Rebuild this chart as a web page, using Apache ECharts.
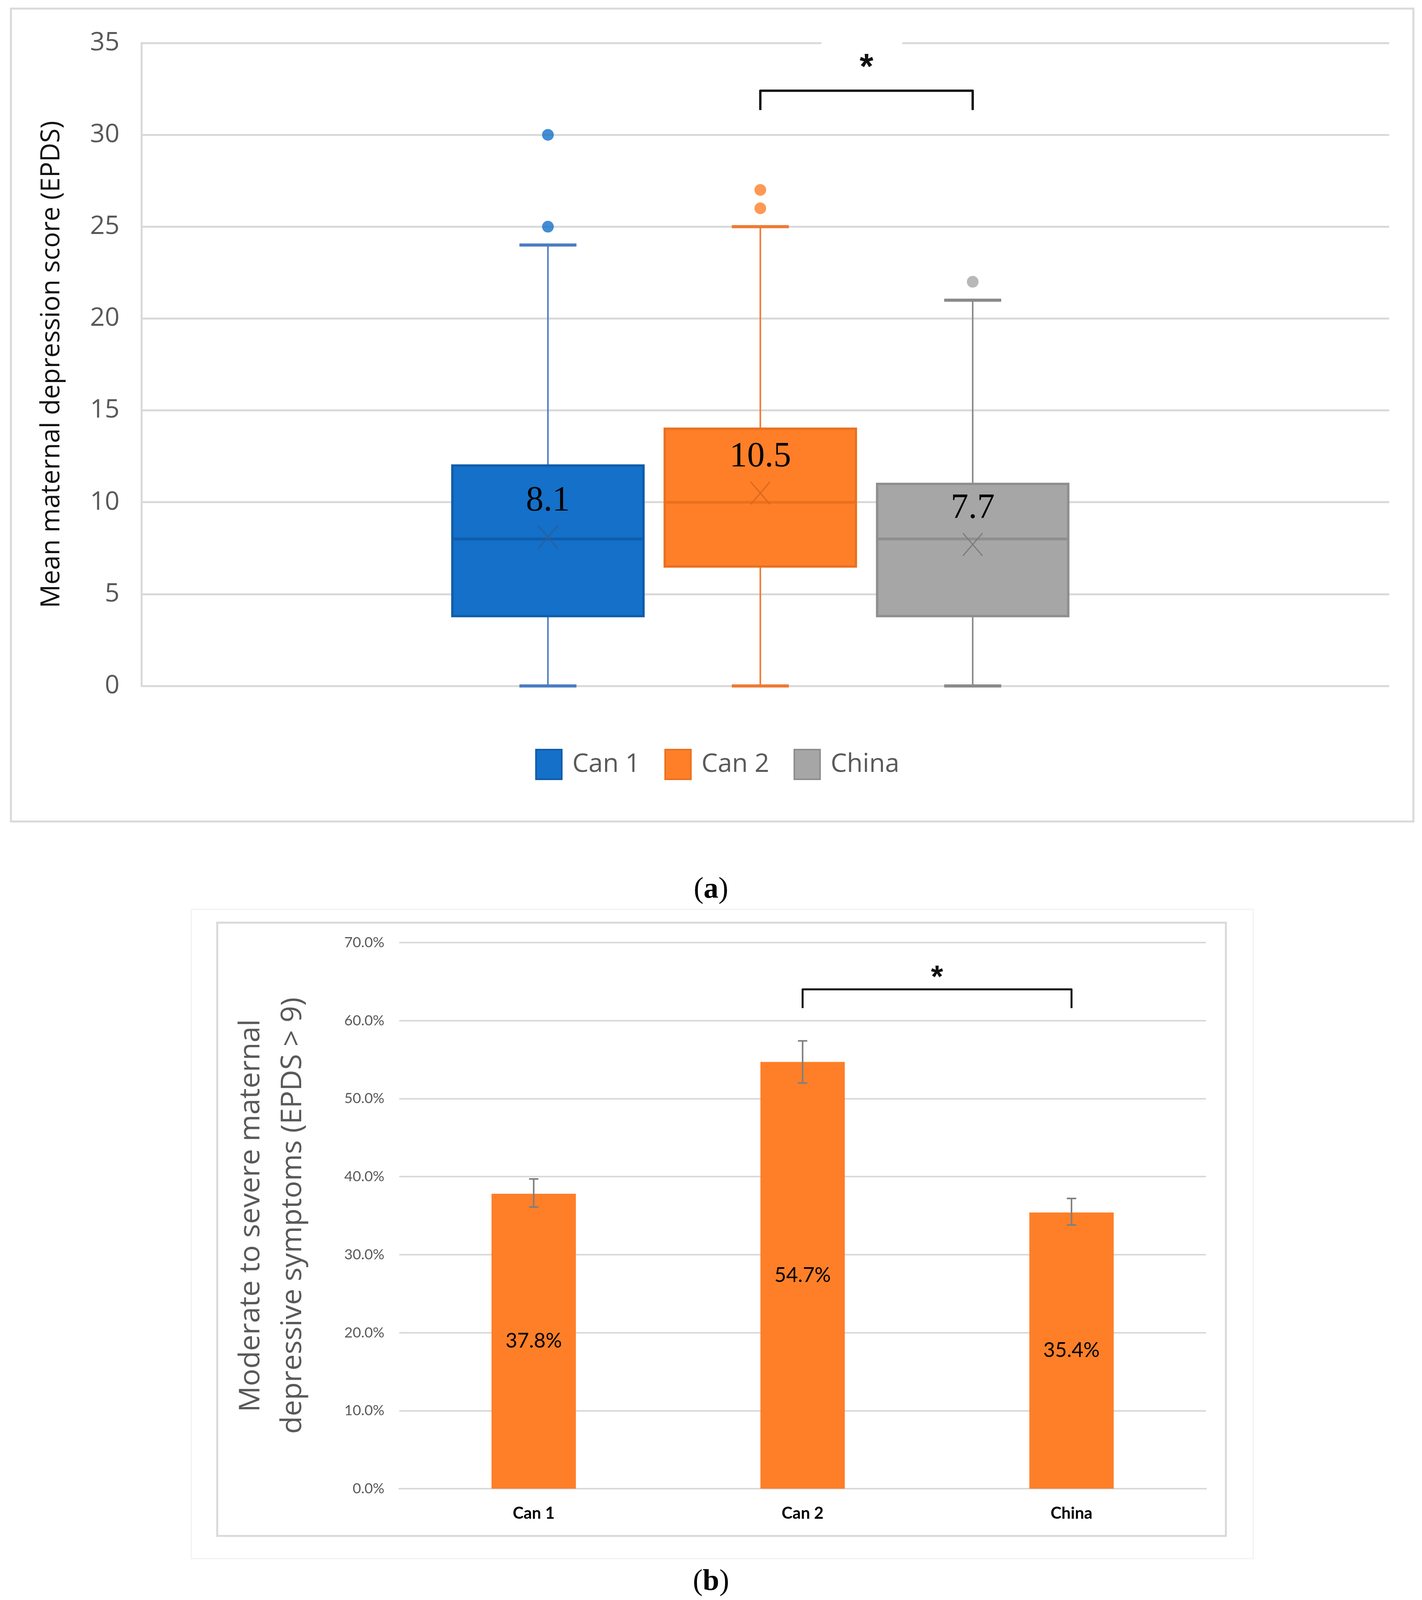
<!DOCTYPE html>
<html>
<head>
<meta charset="utf-8">
<title>Maternal depression scores</title>
<script src="https://cdn.jsdelivr.net/npm/echarts@6.0.0/dist/echarts.min.js"></script>
<style>
  html, body { margin: 0; padding: 0; background: #fff; }
  #main { width: 3640px; height: 4118px; }
</style>
</head>
<body>
<div id="main"></div>
<script>
// (a) box plot: EPDS score per group
const boxGroups = ['Can 1', 'Can 2', 'China'];
// min, Q1, median, Q3, max (whisker ends)
const boxStats = [
  [0, 3.8, 8, 12, 24],
  [0, 6.5, 10, 14, 25],
  [0, 3.8, 8, 11, 21]
];
const boxMeans = [8.1, 10.5, 7.7];
const boxOutliers = [[25, 30], [26, 27], [22]];
const scoreTicks = [0, 5, 10, 15, 20, 25, 30, 35];

// (b) bar chart: share with EPDS > 9
const barCats = ['Can 1', 'Can 2', 'China'];
const barValues = [37.8, 54.7, 35.4];
const errLow = [36.1, 52.0, 33.8];
const errHigh = [39.7, 57.4, 37.2];
const pctTicks = [0, 10, 20, 30, 40, 50, 60, 70];

const fill = ['#1470C8', '#FE7F28', '#A6A6A6'];
const edge = ['#0F5CAA', '#E8711F', '#8E8E8E'];
const whisk = ['#4B7DC2', '#EE7A35', '#8A8A8A'];
const cross = ['#2D5E98', '#D9681C', '#7A7A7A'];

const SANS = '"Open Sans", "DejaVu Sans", sans-serif';
const NARROW = 'Lato, "Open Sans", sans-serif';
const SERIF = '"Liberation Serif", "DejaVu Serif", serif';

const chart = echarts.init(document.getElementById('main'));

function renderBox(params, api) {
  const i = api.value(0);
  const lo = api.coord([i, api.value(1)]);
  const q1 = api.coord([i, api.value(2)]);
  const med = api.coord([i, api.value(3)]);
  const q3 = api.coord([i, api.value(4)]);
  const hi = api.coord([i, api.value(5)]);
  const mean = api.coord([i, api.value(6)]);
  const half = api.size([0.9, 0])[0] / 2;
  const cap = 73;
  const cx = lo[0];
  const ln = (x1, y1, x2, y2, stroke, w) => ({
    type: 'line', shape: { x1, y1, x2, y2 }, style: { stroke, lineWidth: w }
  });
  return {
    type: 'group',
    children: [
      ln(cx, hi[1], cx, q3[1], whisk[i], 4),
      ln(cx, q1[1], cx, lo[1], whisk[i], 4),
      ln(cx - cap, hi[1], cx + cap, hi[1], whisk[i], 8),
      ln(cx - cap, lo[1], cx + cap, lo[1], whisk[i], 8),
      {
        type: 'rect',
        shape: { x: cx - half, y: q3[1], width: half * 2, height: q1[1] - q3[1] },
        style: { fill: fill[i], stroke: edge[i], lineWidth: 6 }
      },
      ln(cx - half, med[1], cx + half, med[1], edge[i], 7),
      ln(cx - 25, mean[1] - 29, cx + 25, mean[1] + 29, cross[i], 3),
      ln(cx + 25, mean[1] - 29, cx - 25, mean[1] + 29, cross[i], 3),
      {
        type: 'text',
        style: {
          text: api.value(6).toFixed(1), x: cx, y: mean[1] - 92,
          align: 'center', verticalAlign: 'middle',
          fontSize: 90, fontFamily: SERIF, fill: '#000'
        }
      }
    ]
  };
}

// bracket: value(0), value(1) = groups joined, value(2) = bar level,
// value(3) = leg end level, value(4) = asterisk level, value(5) = gridline to break
function bracket(lineW, asteriskSize, gapW) {
  return function (params, api) {
    const a = api.coord([api.value(0), api.value(2)]);
    const b = api.coord([api.value(1), api.value(2)]);
    const leg = api.coord([api.value(0), api.value(3)]);
    const star = api.coord([api.value(0), api.value(4)]);
    const midX = (a[0] + b[0]) / 2;
    const children = [];
    if (gapW) {
      const topLine = api.coord([api.value(0), api.value(5)]);
      children.push({
        type: 'rect',
        shape: { x: midX - gapW / 2 - 12, y: topLine[1] - 8, width: gapW, height: 16 },
        style: { fill: '#fff' }
      });
    }
    children.push({
      type: 'polyline',
      shape: { points: [[a[0], leg[1]], [a[0], a[1]], [b[0], b[1]], [b[0], leg[1]]] },
      style: { stroke: '#111', lineWidth: lineW, fill: 'none', lineJoin: 'round' }
    });
    children.push({
      type: 'text',
      style: {
        text: '*', x: midX, y: star[1],
        align: 'center', verticalAlign: 'middle',
        fontSize: asteriskSize, fontWeight: 'bold', fontFamily: '"Liberation Sans", sans-serif', fill: '#111'
      }
    });
    return { type: 'group', children };
  };
}

const series = [];
boxGroups.forEach((name, i) => {
  series.push({
    name, type: 'custom', xAxisIndex: 0, yAxisIndex: 0,
    itemStyle: { color: fill[i] },
    renderItem: renderBox,
    data: [[i].concat(boxStats[i], [boxMeans[i]])],
    z: 3
  });
});
boxGroups.forEach((name, i) => {
  series.push({
    name, type: 'scatter', xAxisIndex: 0, yAxisIndex: 0,
    symbolSize: 30,
    itemStyle: { color: fill[i] },
    data: boxOutliers[i].map(v => [i, v]),
    z: 4
  });
});
// significance bracket between Can 2 and China (top)
series.push({
  name: 'sigTop', type: 'custom', xAxisIndex: 0, yAxisIndex: 0,
  renderItem: bracket(6, 90, 207),
  data: [[1, 2, 32.4, 31.35, 33.6, 35]],
  z: 5
});

series.push({
  name: 'EPDS > 9', type: 'bar', xAxisIndex: 1, yAxisIndex: 1,
  data: barValues, barWidth: 216,
  itemStyle: { color: '#FE7F28' },
  label: {
    show: true, position: 'inside', formatter: '{c}%',
    fontSize: 52, fontFamily: NARROW, color: '#000'
  }
});
series.push({
  name: 'errors', type: 'custom', xAxisIndex: 1, yAxisIndex: 1,
  renderItem: function (params, api) {
    const lo = api.coord([api.value(0), api.value(1)]);
    const hi = api.coord([api.value(0), api.value(2)]);
    const st = { stroke: '#7F7F7F', lineWidth: 4 };
    return {
      type: 'group',
      children: [
        { type: 'line', shape: { x1: lo[0], y1: lo[1], x2: hi[0], y2: hi[1] }, style: st },
        { type: 'line', shape: { x1: lo[0] - 12, y1: lo[1], x2: lo[0] + 12, y2: lo[1] }, style: st },
        { type: 'line', shape: { x1: hi[0] - 12, y1: hi[1], x2: hi[0] + 12, y2: hi[1] }, style: st }
      ]
    };
  },
  data: barCats.map((c, i) => [i, errLow[i], errHigh[i]]),
  z: 5
});
series.push({
  name: 'sigBottom', type: 'custom', xAxisIndex: 1, yAxisIndex: 1,
  renderItem: bracket(5, 80, 0),
  data: [[1, 2, 64.0, 61.6, 65.4, 70]],
  z: 5
});

chart.setOption({
  animation: false,
  backgroundColor: '#fff',
  grid: [
    { left: 362, right: 84, top: 110, bottom: 2362 },
    { left: 1022, right: 553, top: 2413, bottom: 307 }
  ],
  legend: {
    left: 1365, top: 1912,
    orient: 'horizontal',
    itemWidth: 66, itemHeight: 76, itemGap: 62,
    selectedMode: false,
    textStyle: { fontSize: 66, fontFamily: SANS, color: '#595959', padding: [0, 0, 0, 22] },
    data: boxGroups.map((name, i) => ({
      name, icon: 'rect',
      itemStyle: { color: fill[i], borderColor: edge[i], borderWidth: 4 }
    }))
  },
  xAxis: [
    { gridIndex: 0, type: 'value', min: -1.914, max: 3.961, show: false },
    {
      gridIndex: 1, type: 'category', data: barCats,
      axisLine: { show: true, lineStyle: { color: '#D9D9D9', width: 4 } },
      axisTick: { show: false },
      axisLabel: { margin: 42, fontSize: 42, fontWeight: 'bold', fontFamily: NARROW, color: '#000' }
    }
  ],
  yAxis: [
    {
      gridIndex: 0, type: 'value', min: scoreTicks[0], max: scoreTicks[scoreTicks.length - 1], interval: 5,
      axisLine: { show: true, onZero: false, lineStyle: { color: '#D9D9D9', width: 5 } },
      axisTick: { show: false },
      splitLine: { show: true, lineStyle: { color: '#D9D9D9', width: 5 } },
      axisLabel: { margin: 56, fontSize: 66, fontFamily: SANS, color: '#595959' },
      name: 'Mean maternal depression score (EPDS)',
      nameLocation: 'middle', nameRotate: 90, nameGap: 196,
      nameTextStyle: { fontSize: 67, fontFamily: SANS, color: '#111' }
    },
    {
      gridIndex: 1, type: 'value', min: pctTicks[0], max: pctTicks[pctTicks.length - 1], interval: 10,
      axisLine: { show: false },
      axisTick: { show: false },
      splitLine: { show: true, lineStyle: { color: '#D9D9D9', width: 4 } },
      axisLabel: {
        margin: 38, fontSize: 37, fontFamily: NARROW, color: '#595959',
        formatter: v => v.toFixed(1) + '%'
      },
      name: 'Moderate to severe maternal\ndepressive symptoms (EPDS > 9)',
      nameLocation: 'middle', nameRotate: 90, nameGap: 219,
      nameTextStyle: { fontSize: 74, lineHeight: 107, fontFamily: SANS, color: '#595959', align: 'center' }
    }
  ],
  graphic: [
    {
      type: 'rect', silent: true, z: -1,
      shape: { x: 28, y: 22, width: 3590, height: 2081 },
      style: { fill: 'none', stroke: '#D9D9D9', lineWidth: 5 }
    },
    {
      type: 'rect', silent: true, z: -1,
      shape: { x: 490, y: 2328, width: 2718, height: 1662 },
      style: { fill: 'none', stroke: '#F2F2F2', lineWidth: 3 }
    },
    {
      type: 'rect', silent: true, z: -1,
      shape: { x: 556, y: 2362, width: 2582, height: 1570 },
      style: { fill: 'none', stroke: '#D9D9D9', lineWidth: 5 }
    },
    {
      type: 'text', left: 'center', top: 2240,
      style: {
        text: '({b|a})', fontSize: 76, fontFamily: SERIF, fill: '#000',
        rich: { b: { fontSize: 76, fontFamily: SERIF, fontWeight: 'bold' } }
      }
    },
    {
      type: 'text', left: 'center', top: 4012,
      style: {
        text: '({b|b})', fontSize: 76, fontFamily: SERIF, fill: '#000',
        rich: { b: { fontSize: 76, fontFamily: SERIF, fontWeight: 'bold' } }
      }
    }
  ],
  series
});
</script>
</body>
</html>
